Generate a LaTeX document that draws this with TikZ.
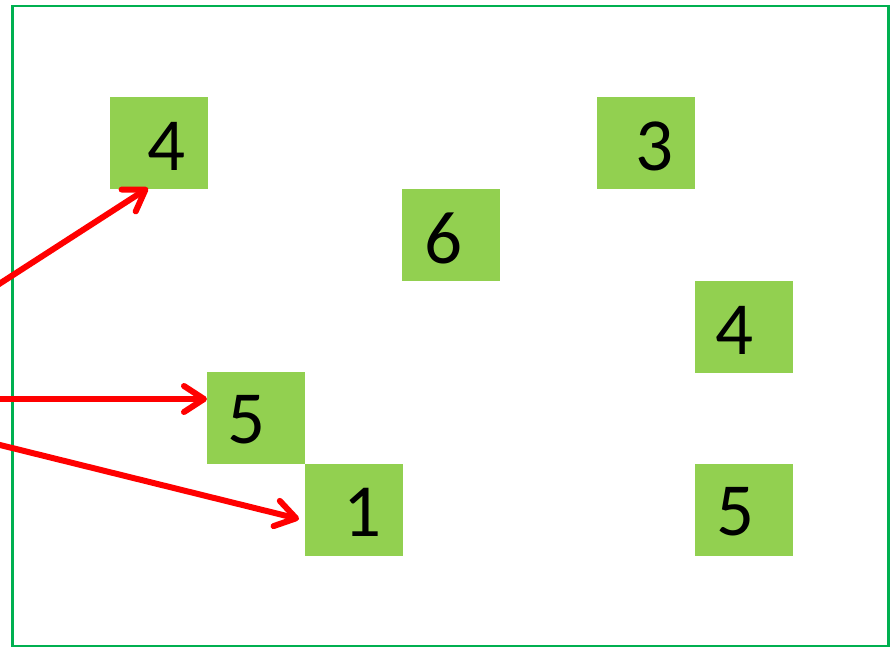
\documentclass[tikz,border=0pt]{standalone}
\usepackage{fontspec}
\setmainfont{Carlito}
\usetikzlibrary{arrows.meta}
\definecolor{framegreen}{HTML}{00B050}
\definecolor{boxgreen}{HTML}{92D050}
\definecolor{arrowred}{HTML}{FF0000}
\begin{document}
\begin{tikzpicture}[x=1pt,y=-1pt,
  cell/.style={fill=boxgreen,draw=none,minimum width=98pt,minimum height=92pt,inner sep=0pt,outer sep=0pt},
  digit/.style={inner sep=0pt,font=\fontsize{75}{75}\selectfont,text=black},
  redarrow/.style={draw=arrowred,line width=6pt,line cap=round,
    -{Straight Barb[length=20pt,width=26pt,line cap=round,line join=round]}}]
\useasboundingbox (0,0) rectangle (893,648);
\node[draw=framegreen,line width=2.5pt,minimum width=876pt,minimum height=640pt,inner sep=0pt] (frame) at (450.5,326) {};
% boxes
\node[cell] (b4a) at (159,143) {};
\node[cell] (b3) at (646,143) {};
\node[cell] (b6) at (451,235) {};
\node[cell] (b4b) at (744,327) {};
\node[cell] (b5a) at (256,418) {};
\node[cell] (b1) at (354,510) {};
\node[cell] (b5b) at (744,510) {};
% digits
\node[digit] (t4a) at (167,146) {4};
\node[digit] (t3) at (654.5,146) {3};
\node[digit] (t6) at (443,238) {6};
\node[digit] (t4b) at (734,330) {4};
\node[digit] (t5a) at (247,420) {5};
\node[digit] (t1) at (363,512) {1};
\node[digit] (t5b) at (735,512) {5};
% arrow ends
\coordinate (s1) at (-4,286);
\coordinate (s2) at (-4,399);
\coordinate (s3) at (-4,444);
\coordinate (e1) at ([xshift=-11pt,yshift=1pt]b4a.south);
\coordinate (e2) at ([yshift=19pt]b5a.west);
\coordinate (e3) at ([xshift=-6pt,yshift=-9pt]b1.west);
\draw[redarrow] (s1) -- (e1);
\draw[redarrow] (s2) -- (e2);
\draw[redarrow] (s3) -- (e3);
\end{tikzpicture}
\end{document}
